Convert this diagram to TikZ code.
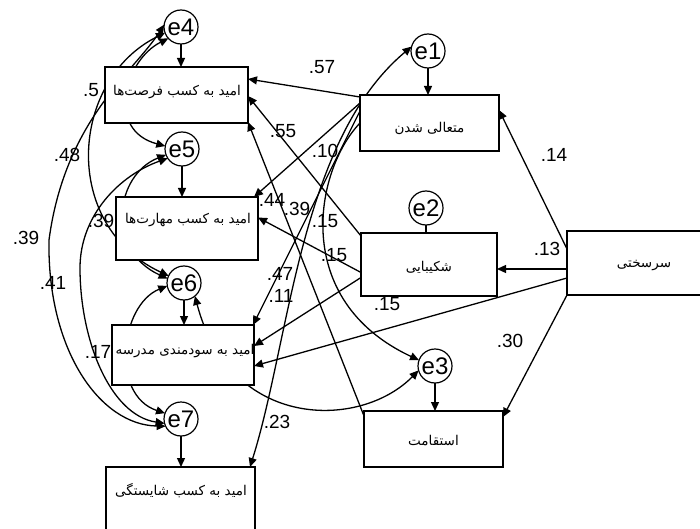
\documentclass[tikz,border=0pt]{standalone}
\usepackage{fontspec}
\setmainfont{Liberation Sans}
\newfontfamily\fa[Script=Arabic]{DejaVu Sans}
\TeXXeTstate=1
\usetikzlibrary{arrows.meta,calc}
\pgfdeclarelayer{bg}
\pgfsetlayers{bg,main}
\begin{document}
\begin{tikzpicture}[x=1pt,y=-1pt,
  box/.style={draw, fill=white, line width=1.4pt, inner sep=0pt, outer sep=0pt},
  err/.style={circle, draw, fill=white, line width=1.2pt, minimum size=34pt, inner sep=0pt, outer sep=0pt, font=\fontsize{24}{24}\selectfont},
  ftxt/.style={font=\fa\fontsize{13.5}{13.5}\selectfont, inner sep=0pt},
  lab/.style={font=\fontsize{19}{19}\selectfont, inner sep=0pt},
  pth/.style={line width=1.3pt, -{Triangle[length=9pt,width=8pt]}},
  cov/.style={line width=1.3pt, {Triangle[length=9pt,width=8pt]}-{Triangle[length=9pt,width=8pt]}},
  plain/.style={line width=1.3pt}
]
\useasboundingbox (0,0) rectangle (700,529);

% boxes
\node[box, minimum width=143pt, minimum height=56pt] (B1) at (176.5,95) {};
\node[box, minimum width=142pt, minimum height=63pt] (B2) at (187,228.5) {};
\node[box, minimum width=142pt, minimum height=60pt] (B3) at (183,355) {};
\node[box, minimum width=149pt, minimum height=72pt] (B4) at (180.5,503) {};
\node[box, minimum width=139pt, minimum height=56pt] (C1) at (429.5,123) {};
\node[box, minimum width=136pt, minimum height=63pt] (C2) at (429,264.5) {};
\node[box, minimum width=139pt, minimum height=56pt] (C3) at (433.5,439) {};
\node[box, minimum width=140pt, minimum height=64pt] (D) at (637,263) {};

% box texts
\node[ftxt] (tB1) at (177,92) {\beginR امید به کسب فرصت‌ها\endR};
\node[ftxt] (tB2) at (188,220) {\beginR امید به کسب مهارت‌ها\endR};
\node[ftxt] (tB3) at (185,351) {\beginR امید به سودمندی مدرسه\endR};
\node[ftxt] (tB4) at (181,491) {\beginR امید به کسب شایستگی\endR};
\node[ftxt] (tC1) at (429.5,128) {\beginR متعالی شدن\endR};
\node[ftxt] (tC2) at (429,267) {\beginR شکیبایی\endR};
\node[ftxt] (tC3) at (433.5,441) {\beginR استقامت\endR};
\node[ftxt] (tD) at (644,266) {\beginR سرسختی\endR};

% error circles
\node[err] (e4) at (181,27) {e4};
\node[err] (e5) at (182,149) {e5};
\node[err] (e6) at (184,283) {e6};
\node[err] (e7) at (181,419) {e7};
\node[err] (e1) at (428,51) {e1};
\node[err] (e2) at (426,208) {e2};
\node[err] (e3) at (435,366) {e3};

\begin{pgfonlayer}{bg}
% error paths
\draw[pth] (e4.south) -- (e4.south |- B1.north);
\draw[pth] (e5.south) -- (e5.south |- B2.north);
\draw[pth] (e6.south) -- (e6.south |- B3.north);
\draw[pth] (e7.south) -- (e7.south |- B4.north);
\draw[pth] (e1.south) -- (e1.south |- C1.north);
\draw[pth] (e3.south) -- (e3.south |- C3.north);
\draw[plain] (e2.south) -- (e2.south |- C2.north);

% structural paths
\draw[pth] ($(D.west)+(0,-14)$) -- ($(C1.east)+(0,-13)$);
\draw[pth] ($(D.west)+(0,6)$) -- ($(C2.east)+(0,4.5)$);
\draw[pth] ($(D.west)+(0,15)$) -- ($(B3.east)+(0,11)$);
\draw[pth] (D.south west) -- ($(C3.east)+(0,-22)$);
\draw[pth] ($(C1.west)+(0,-26)$) -- ($(B1.east)+(0,-16)$);
\draw[pth] ($(C1.west)+(0,-20)$) -- ($(B2.north east)+(-4,0)$);
\draw[pth] ($(C1.west)+(0,-12)$) -- ($(B3.north east)+(-1,0)$);
\draw[pth] ($(C2.north west)+(0,3)$) -- ($(B1.east)+(0,1)$);
\draw[pth] ($(C2.west)+(0,8)$) -- ($(B2.east)+(0,-11)$);
\draw[pth] ($(C2.west)+(0,13)$) -- ($(B3.east)+(0,-9)$);
\draw[pth] ($(C3.north west)+(0,5)$) -- ($(B1.south east)+(0,-1)$);

% covariances (left)
\draw[cov] (e4.222) .. controls (125,60) and (105,130) .. (e5.170);
\draw[cov] (e4.200) .. controls (70,80) and (60,225) .. (e6.155);
\draw[cov] (e4.172) .. controls (134,72) and (65,120) .. (49,240) .. controls (47,350) and (100,425) .. (e7.205);
\draw[cov] (e5.200) .. controls (115,175) and (105,250) .. (e6.165);
\draw[cov] (e5.213) .. controls (120,175) and (80,215) .. (80,268) .. controls (80,340) and (110,415) .. (e7.195);
\draw[cov] (e6.190) .. controls (120,305) and (110,395) .. (e7.160);
% covariances (right)
\draw[cov] (e6.310) .. controls (230,430) and (360,430) .. (e3.195);
\draw[pth] (C1.west) .. controls (315,170) and (290,300) .. (e3.160);
\draw[cov] ($(B4.north east)+(-5,0)$) .. controls (290,340) and (300,140) .. (e1.165);
\end{pgfonlayer}

% labels
\node[lab] (l1) at (91,90) {.5};
\node[lab] (l2) at (67,155) {.48};
\node[lab] (l3) at (26,238) {.39};
\node[lab] (l4) at (101,221) {.39};
\node[lab] (l5) at (53,283) {.41};
\node[lab] (l6) at (98,352) {.17};
\node[lab] (l7) at (322,67) {.57};
\node[lab] (l8) at (283,131) {.55};
\node[lab] (l9) at (325,151) {.10};
\node[lab] (l10) at (272,200) {.44};
\node[lab] (l11) at (297,209) {.39};
\node[lab] (l12) at (325,221) {.15};
\node[lab] (l13) at (334,255) {.15};
\node[lab] (l14) at (280,274) {.47};
\node[lab] (l15) at (281,296) {.11};
\node[lab] (l16) at (387,304) {.15};
\node[lab] (l17) at (277,422) {.23};
\node[lab] (l18) at (554,155) {.14};
\node[lab] (l19) at (547,249) {.13};
\node[lab] (l20) at (510,341) {.30};
\end{tikzpicture}
\end{document}
